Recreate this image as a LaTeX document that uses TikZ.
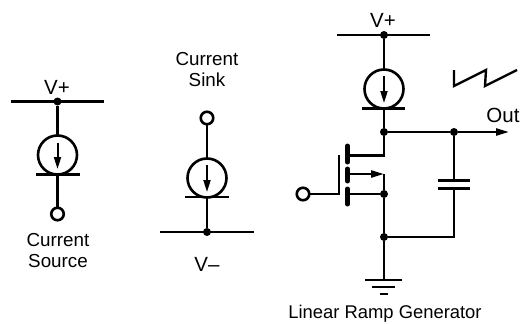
\documentclass[tikz,border=0pt]{standalone}
\usepackage{fontspec}
\setmainfont{Liberation Sans}
\usetikzlibrary{calc,positioning,arrows.meta}

\begin{document}
\begin{tikzpicture}[
  x=1pt, y=-1pt,
  line width=2.4pt,
  font=\fontsize{18.8}{21}\selectfont,
  wire/.style={
    draw=black,
    line cap=butt
  },
  rail/.style={
    draw=black,
    line width=2.4pt
  },
  dot/.style={
    circle,
    fill=black,
    minimum size=8pt,
    inner sep=0pt,
    outer sep=0pt
  },
  terminal/.style={
    circle,
    fill=white,
    draw=black,
    line width=2.6pt,
    minimum size=12.5pt,
    inner sep=0pt,
    outer sep=0pt
  },
  current source/.style={
    circle,
    draw=black,
    line width=2.6pt,
    minimum size=39pt,
    inner sep=0pt,
    outer sep=0pt
  },
  label/.style={
    align=center,
    inner sep=0pt
  },
  rail label/.style={
    label,
    font=\fontsize{20.5}{22}\selectfont
  },
  flow/.style={
    -{Triangle[length=12pt,width=7pt]},
    line width=2pt
  },
  out flow/.style={
    -{Triangle[length=13pt,width=7pt]}
  }
  ]
\useasboundingbox (0,0) rectangle (520,324);
% Current Source
\node [dot] (source rail dot) at (57.5,101.5) {};
\coordinate (source rail left) at (11,101.5);
\coordinate (source rail right) at (104,101.5);
\draw [rail] (source rail left) -- (source rail right);
\node [rail label] (source vplus) at (57,87) {V+};
\node [current source] (source circle) at (57.5,155) {};
\coordinate (source base left) at (36,174.5);
\coordinate (source base right) at (80,174.5);
\coordinate (source base) at (57.5,174.5);
\draw [rail] (source base left) -- (source base right);
\coordinate (source flow top) at (57.5,143);
\coordinate (source flow end) at (57.5,169);
\draw [flow] (source flow top) -- (source flow end);
\node [terminal] (source terminal) at (57.5,214) {};
\draw [wire] (source rail dot) -- (source circle);
\draw [wire] (source base) -- (source terminal);
\node [label] (source text) at (58,250.5) {Current\\Source};
% Current Sink
\node [label] (sink text) at (207,70) {Current\\Sink};
\node [terminal] (sink terminal) at (207,118) {};
\node [current source] (sink circle) at (207,178) {};
\coordinate (sink base left) at (185,197);
\coordinate (sink base right) at (229,197);
\coordinate (sink base) at (207,197);
\draw [rail] (sink base left) -- (sink base right);
\coordinate (sink flow top) at (207,165);
\coordinate (sink flow end) at (207,192);
\draw [flow] (sink flow top) -- (sink flow end);
\node [dot] (sink rail dot) at (207,232) {};
\coordinate (sink rail left) at (160,232);
\coordinate (sink rail right) at (254,232);
\draw [rail] (sink rail left) -- (sink rail right);
\draw [wire] (sink terminal) -- (sink circle);
\draw [wire] (sink base) -- (sink rail dot);
\node [rail label] (sink vminus) at (207,264) {V–};
% Ramp Generator supply
\node [rail label] (ramp vplus) at (383,20) {V+};
\node [dot] (ramp rail dot) at (384,35) {};
\coordinate (ramp rail left) at (337,35);
\coordinate (ramp rail right) at (430,35);
\draw [rail] (ramp rail left) -- (ramp rail right);
\node [current source] (ramp circle) at (384,89) {};
\coordinate (ramp base left) at (362,108.5);
\coordinate (ramp base right) at (405,108.5);
\coordinate (ramp base) at (384,108.5);
\draw [rail] (ramp base left) -- (ramp base right);
\coordinate (ramp flow top) at (384,76);
\coordinate (ramp flow end) at (384,103);
\draw [flow] (ramp flow top) -- (ramp flow end);
\draw [wire] (ramp rail dot) -- (ramp circle);
% Output
\node [dot] (drain dot) at (384,132) {};
\node [dot] (out dot) at (454,132) {};
\coordinate (out end) at (509,132);
\draw [wire] (ramp base) -- (drain dot);
\draw [wire] (drain dot) -- (out dot);
\draw [out flow] (out dot) -- (out end);
\node [rail label] (out text) at (503,115) {Out};
\coordinate (saw a) at (454,70);
\coordinate (saw b) at (454,86);
\coordinate (saw c) at (486,70);
\coordinate (saw d) at (485,86);
\coordinate (saw e) at (517,70);
\draw [wire, line join=miter] (saw a) -- (saw b) -- (saw c) -- (saw d) -- (saw e);
% MOSFET
\coordinate (gate top) at (339,155);
\coordinate (gate bottom) at (339,195);
\draw [wire] (gate top) -- (gate bottom);
\coordinate (gate in) at (339,194);
\node [terminal] (gate terminal) at (303,194) {};
\draw [wire] (gate terminal) -- (gate in);
\coordinate (drain top) at (347.5,146);
\coordinate (drain bottom) at (347.5,162);
\coordinate (channel top) at (347.5,169);
\coordinate (channel bottom) at (347.5,181);
\coordinate (source top) at (347.5,189);
\coordinate (source bottom) at (347.5,204);
\draw [wire, line width=5pt, line cap=round] (drain top) -- (drain bottom);
\draw [wire, line width=5pt, line cap=round] (channel top) -- (channel bottom);
\draw [wire, line width=5pt, line cap=round] (source top) -- (source bottom);
\coordinate (drain stub) at (347.5,155.5);
\coordinate (drain corner) at (384,155.5);
\draw [wire] (drain stub) -- (drain corner) -- (drain dot);
\coordinate (body stub) at (347.5,174);
\coordinate (body corner) at (384,174);
\node [dot] (fet source dot) at (384,194) {};
\coordinate (source stub) at (347.5,194);
\draw [wire] (source stub) -- (fet source dot);
\draw [wire] (body corner) -- (fet source dot);
\draw [out flow] (body stub) -- (body corner);
% Capacitor and ground
\coordinate (cap top) at (454,180.5);
\coordinate (cap bottom) at (454,188.5);
\draw [wire] (out dot) -- (cap top);
\coordinate (cap top left) at (438,180.5);
\coordinate (cap top right) at (470,180.5);
\coordinate (cap bottom left) at (438,188.5);
\coordinate (cap bottom right) at (470,188.5);
\draw [rail] (cap top left) -- (cap top right);
\draw [rail] (cap bottom left) -- (cap bottom right);
\node [dot] (ground dot) at (384,237) {};
\coordinate (cap corner) at (454,237);
\draw [wire] (cap bottom) -- (cap corner) -- (ground dot);
\draw [wire] (fet source dot) -- (ground dot);
\coordinate (ground top) at (384,280);
\draw [wire] (ground dot) -- (ground top);
\coordinate (ground a left) at (365,280);
\coordinate (ground a right) at (402,280);
\coordinate (ground b left) at (372,287);
\coordinate (ground b right) at (395,287);
\coordinate (ground c left) at (380,294);
\coordinate (ground c right) at (388,294);
\draw [rail] (ground a left) -- (ground a right);
\draw [rail] (ground b left) -- (ground b right);
\draw [rail] (ground c left) -- (ground c right);
\node [label, font=\fontsize{18.4}{21}\selectfont] (ramp text) at (385,314) {Linear Ramp Generator};
\end{tikzpicture}
\end{document}
